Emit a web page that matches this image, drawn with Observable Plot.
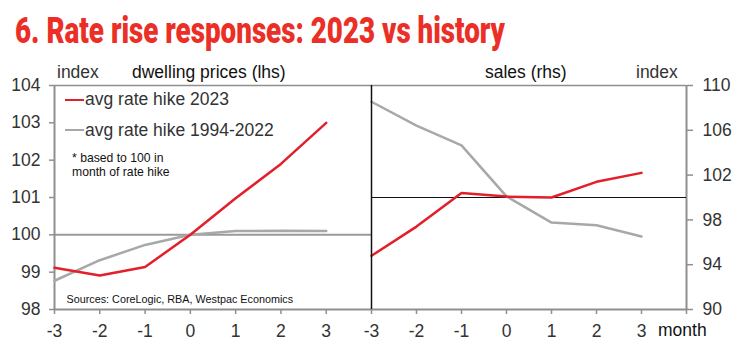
<!DOCTYPE html>
<html><head><meta charset="utf-8">
<script src="https://cdn.jsdelivr.net/npm/d3@7"></script>
<script src="https://cdn.jsdelivr.net/npm/@observablehq/plot@0.6"></script>
<style>
html,body{margin:0;padding:0;background:#fff;}
#wrap{position:relative;width:743px;height:354px;overflow:hidden;font-family:"Liberation Sans",Arial,sans-serif;}
#wrap svg{position:absolute;left:0;top:0;}
.t{position:absolute;white-space:nowrap;line-height:1;}
.seg{position:absolute;height:0;border-top-style:solid;}
</style></head><body><div id="wrap"></div>
<script>
// ---- data ----
const months = [-3, -2, -1, 0, 1, 2, 3];
const dwelling2023 = [99.12, 98.91, 99.14, 100.0, 100.98, 101.9, 103.0];
const dwellingHist = [98.77, 99.32, 99.73, 100.0, 100.1, 100.11, 100.1];
const sales2023 = [94.8, 97.4, 100.4, 100.08, 100.0, 101.4, 102.2];
const salesHist = [108.55, 106.42, 104.66, 100.1, 97.76, 97.52, 96.52];
const seriesNames = ["avg rate hike 2023", "avg rate hike 1994-2022"];
const seriesColors = ["#e21f2a", "#a8a8a8"];
const lhsTicks = [98, 99, 100, 101, 102, 103, 104];
const rhsTicks = [90, 94, 98, 102, 106, 110];
const xTicks = [-3, -2, -1, 0, 1, 2, 3];
const titleText = "6. Rate rise responses: 2023 vs history";
const noteLines = ["* based to 100 in", "month of rate hike"];
const sourceText = "Sources: CoreLogic, RBA, Westpac Economics";

// ---- tables ----
const rows = (vals, s) => months.map((m, i) => ({month: m, value: vals[i], series: s}));
const dwellRows = [...rows(dwellingHist, seriesNames[1]), ...rows(dwelling2023, seriesNames[0])];
const salesRows = [...rows(salesHist, seriesNames[1]), ...rows(sales2023, seriesNames[0])];

const W = 743, H = 354, divX = 371, rightX = 686;
const axisGray = "#8f8f8f";
const font = '"Liberation Sans", Arial, sans-serif';
const common = {
  width: W, height: H, marginTop: 85, marginBottom: 45,
  x: {domain: [-3, 4], label: null},
  color: {domain: seriesNames, range: seriesColors},
  style: {fontFamily: font, fontSize: "17.5px", color: "#333", background: "transparent", overflow: "visible"}
};

const left = Plot.plot({
  ...common,
  marginLeft: 54, marginRight: W - divX,
  y: {domain: [98, 104], label: null},
  marks: [
    Plot.ruleY([100], {stroke: "#9a9a9a", strokeWidth: 2}),
    Plot.ruleY([104], {stroke: axisGray, strokeWidth: 1.5}),
    Plot.ruleY([98], {stroke: axisGray, strokeWidth: 2}),
    Plot.ruleX([-3], {stroke: axisGray, strokeWidth: 2}),
    Plot.line(dwellRows, {x: "month", y: "value", z: "series", stroke: "series", strokeWidth: 2.5, strokeLinejoin: "miter"}),
    Plot.axisY({ticks: lhsTicks, label: null, tickSize: 5, tickPadding: 9, tickFormat: d => String(d), stroke: axisGray, strokeWidth: 1.5, fontSize: 17.5}),
    Plot.axisX({ticks: xTicks, label: null, tickSize: 5, tickPadding: 10, tickFormat: d => String(d), stroke: axisGray, strokeWidth: 1.5, fontSize: 17.5})
  ]
});

const right = Plot.plot({
  ...common,
  marginLeft: divX, marginRight: W - rightX,
  y: {domain: [90, 110], label: null},
  marks: [
    Plot.ruleY([110], {stroke: axisGray, strokeWidth: 1.5}),
    Plot.ruleY([90], {stroke: axisGray, strokeWidth: 2}),
    Plot.ruleX([4], {stroke: axisGray, strokeWidth: 2}),
    Plot.ruleY([100], {stroke: "#111", strokeWidth: 1.2}),
    Plot.line(salesRows, {x: "month", y: "value", z: "series", stroke: "series", strokeWidth: 2.5, strokeLinejoin: "miter"}),
    Plot.ruleX([-3], {stroke: "#111", strokeWidth: 1.5}),
    Plot.axisY({anchor: "right", label: null, ticks: rhsTicks, tickSize: 6, tickPadding: 10, tickFormat: d => String(d), stroke: axisGray, strokeWidth: 1.5, fontSize: 17.5}),
    Plot.axisX({ticks: [...xTicks, 4], label: null, tickSize: 5, tickPadding: 10, tickFormat: d => d === 4 ? "" : String(d), stroke: axisGray, strokeWidth: 1.5, fontSize: 17.5})
  ]
});

const wrap = document.getElementById("wrap");
wrap.appendChild(left);
wrap.appendChild(right);

function addText(txt, x, baseline, size, color, extra) {
  const d = document.createElement("div");
  d.className = "t";
  d.textContent = txt;
  d.style.left = x + "px";
  d.style.top = (baseline - size * 0.846) + "px";
  d.style.fontSize = size + "px";
  d.style.color = color;
  if (extra) Object.assign(d.style, extra);
  wrap.appendChild(d);
  return d;
}
function addSeg(x1, x2, y, color) {
  const s = document.createElement("div");
  s.className = "seg";
  s.style.left = x1 + "px";
  s.style.width = (x2 - x1) + "px";
  s.style.top = (y - 1.25) + "px";
  s.style.borderTopWidth = "2.5px";
  s.style.borderTopColor = color;
  wrap.appendChild(s);
}

// title
const title = addText(titleText, 15, 43.3, 37, "#eb2f26", {fontFamily: 'Roboto, "Liberation Sans", sans-serif', fontWeight: "900", transformOrigin: "0 0"});
const tw = title.getBoundingClientRect().width;
title.style.transform = `scaleX(${490 / tw})`;

// panel headers
addText("index", 57, 79, 17.5, "#333");
addText("dwelling prices (lhs)", 132, 79, 17.5, "#111");
addText("sales (rhs)", 485, 79, 17.5, "#111");
addText("index", 636, 79, 17.5, "#333");
addText("month", 658, 337, 17.5, "#111");

// legend
addSeg(65, 84, 100, seriesColors[0]);
addText(seriesNames[0], 85, 105.5, 17.5, "#333");
addSeg(65, 84, 130.7, seriesColors[1]);
addText(seriesNames[1], 85, 136.7, 17.5, "#333");

// notes
addText(noteLines[0], 72, 162, 12.2, "#111");
addText(noteLines[1], 72, 176, 12.2, "#111");
addText(sourceText, 66.5, 302.7, 10.8, "#111");
</script></body></html>
